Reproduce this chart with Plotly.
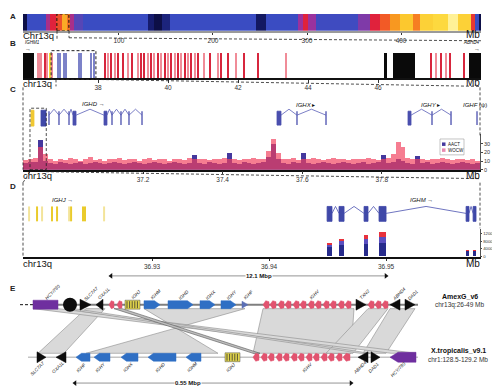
import plotly.graph_objects as go

W, H = 500, 386
def X(p): return p / W
def Y(p): return 1 - p / H

# ---------------- DATA ----------------
# A: density along chr13q (Mb bin edges + relative density)
a_edges = [-2, 2, 22, 27, 33, 39.5, 44.5, 48, 52, 62, 131, 137, 146, 154, 246, 256, 290, 296, 301, 310,
           354, 367, 378, 388, 399, 413, 420, 434, 450, 461, 474, 479, 483, 485]
a_density = [0.02, 0.2, 0.45, 0.56, 0.64, 0.8, 0.7, 0.45, 0.32, 0.2,
             0.08, 0.02, 0.1, 0.2, 0.06, 0.2, 0.42, 0.56, 0.42, 0.22,
             0.38, 0.56, 0.66, 0.76, 0.86, 0.72, 0.88, 0.9, 0.98, 0.88,
             0.6, 0.2, 0.02]
a_ticks = [100, 200, 300, 400]
a_zoom = [34, 46.8]

# B: features on chr13q 36-49 Mb
b_black_start = [35.86, 46.17, 46.43, 48.60]
b_black_end = [36.17, 46.26, 47.06, 48.94]
b_red = [36.49, 38.2, 38.371, 38.571, 38.714, 38.971, 39.229, 39.314, 39.514, 39.714, 39.914, 40.086,
         40.286, 40.486, 40.657, 40.857, 41.2, 41.514, 41.714, 42.171, 42.571, 47.51, 47.8, 48.06, 48.46]
b_pink = [36.31, 36.37, 36.54, 36.69, 38.286, 38.486, 38.857, 39.143, 39.429, 39.6, 39.8, 40.0, 40.2,
          40.371, 40.571, 40.771, 41.029, 41.429, 41.943, 43.371, 47.66, 47.94]
b_yellow = [36.63]
b_blue = [36.86, 36.91, 37.03, 37.09, 37.46, 37.51, 37.80, 37.89]
b_ticks = [38, 40, 42, 44, 46]
b_zoom = [36.66, 37.94]

# C: read frequency per bin (36.90-38.05 Mb)
c_bin_start = 36.8985
c_bin_size = 0.01248
c_aact = [8, 9, 9, 34, 10, 8, 7, 9, 8, 7,
          8, 9, 7, 8, 9, 8, 7, 8, 9, 8,
          7, 8, 9, 8, 7, 8, 9, 8, 7, 8,
          9, 8, 7, 8, 17, 8, 7, 9, 8, 7,
          8, 20, 8, 7, 9, 8, 7, 8, 9, 15,
          30, 12, 8, 7, 9, 8, 19, 8, 7, 8,
          9, 8, 7, 8, 9, 8, 7, 8, 9, 7,
          8, 9, 17, 8, 9, 12, 10, 8, 7, 16,
          8, 9, 7, 8, 9, 8, 7, 8, 9, 8,
          7, 8]
c_wocw = [11, 13, 14, 26, 18, 12, 10, 13, 11, 14,
          12, 10, 13, 15, 11, 12, 10, 13, 12, 14,
          11, 12, 13, 10, 12, 14, 11, 13, 12, 10,
          12, 13, 11, 14, 12, 13, 12, 11, 13, 12,
          14, 13, 12, 11, 13, 12, 14, 12, 13, 22,
          36, 20, 13, 12, 14, 11, 13, 12, 14, 13,
          11, 12, 14, 12, 13, 11, 12, 13, 12, 14,
          13, 11, 12, 14, 18, 32, 26, 14, 12, 13,
          12, 11, 13, 12, 14, 12, 11, 13, 12, 11,
          12, 10]
c_ticks = [37.2, 37.4, 37.6, 37.8]
c_ighj = [36.9186, 36.9261]
c_ighm = [36.9437, 36.9563]
c_ighd_start = [36.9638, 36.9889, 37.0141, 37.0241, 37.1020, 37.1221, 37.1447, 37.1648, 37.1975]
c_ighd_end = [36.9638, 36.9889, 37.0141, 37.0317, 37.1095, 37.1221, 37.1447, 37.1648, 37.1975]
c_ighx_start = [37.5367, 37.5869, 37.6598]
c_ighx_end = [37.5467, 37.5869, 37.6598]
c_ighy_start = [37.8658, 37.9261, 37.9739]
c_ighy_end = [37.8734, 37.9261, 37.9739]
c_ighf = [38.0392]
c_zoom = [36.916, 36.957]

# D: IGHJ segments, IGHM exons and read depth
d_ighj = [36.91949, 36.92017, 36.9206, 36.92145, 36.92188, 36.92291, 36.92308, 36.9241, 36.92427, 36.9259]
d_ighj_tone = ['l', 'd', 'l', 'd', 'd', 'l', 'd', 'd', 'd', 'l']
d_ighm_start = [36.94496, 36.94598, 36.94812, 36.9494, 36.95684, 36.95744]
d_ighm_end = [36.94538, 36.94641, 36.94846, 36.95, 36.95709, 36.95769]
d_depth_low = [4800, 6000, 6500, 7000, 2800, 2800]
d_depth_mid = [1300, 2000, 2500, 3000, 300, 300]
d_depth_high = [300, 1000, 2000, 2700, 100, 100]
d_ticks = [36.93, 36.94, 36.95]
d_depth_ticks = [0, 4000, 8000, 12000]

# E: synteny schematic (track positions)
top_start = [25, 55, 72, 88, 101, 109, 117, 136, 160, 192, 213, 234,
             255, 262, 270, 277, 285, 292, 300, 307, 315, 322, 330, 337, 348, 360, 367, 374, 382, 397]
top_end = [50, 69, 83, 95, 106, 114, 132, 152, 185, 207, 228, 240,
           261, 268, 276, 283, 291, 298, 306, 313, 321, 328, 336, 343, 358, 366, 373, 380, 392, 407]
top_kind = ['P', 'O', 'K>', 'K<', 'V<', 'V<', 'J', 'C>', 'C>', 'C>', 'C>', 'c>'] + ['V<'] * 12 + \
           ['K>', 'V<', 'V<', 'V<', 'K<', 'K>']
top_label = ['HCY/780', '', 'SLC7A7', 'OXA1L', '', '', 'IGHJ', 'IGHM', 'IGHD', 'IGHX', 'IGHY', 'IGHF',
             '', '', '', '', '', '', 'IGHV', '', '', '', '', '', 'TXN2', '', '', '', 'ABHD4', 'DAD1']
bot_start = [29, 48, 68, 86, 113, 140, 178, 217,
             245, 253, 260, 268, 275, 283, 290, 298, 305, 313, 320, 328, 335, 350, 363, 382]
bot_end = [38, 58, 82, 102, 130, 168, 193, 232,
           251, 259, 266, 274, 281, 289, 296, 304, 311, 319, 326, 334, 342, 360, 372, 408]
bot_kind = ['K>', 'K<', 'C<', 'C<', 'C<', 'C<', 'C<', 'J'] + ['V<'] * 13 + ['K<', 'K>', 'P<']
bot_label = ['SLC7A7', 'OXA1L', 'IGHF', 'IGHY', 'IGHX', 'IGHD', 'IGHM', 'IGHJ',
             '', '', '', '', '', '', '', 'IGHV', '', '', '', '', '', 'ABHD4', 'DAD1', 'HCY/780']
link_top_s = [78, 136, 255, 360, 382, 25, 56, 106]
link_top_e = [97, 237, 346, 380, 407, 50, 66, 114]
link_bot_s = [30, 210, 245, 318, 355, 383, 352, 245]
link_bot_e = [56, 78, 343, 345, 378, 408, 362, 252]
span_top = [103, 378, '12.1 Mbp']
span_bot = [67, 343, '0.55 Mbp']

# ---------------- FIGURE ----------------
fig = go.Figure()
shapes, ann = [], []
FONT = 'Liberation Sans, Arial, sans-serif'

def T(x, y, text, size=7, anchor='center', color='#111', angle=0, xref='paper', yref='paper', bg=None):
    d = dict(xref=xref, yref=yref, x=X(x) if xref == 'paper' else x, y=Y(y) if yref == 'paper' else y,
             text=text, showarrow=False, xanchor=anchor, yanchor='middle',
             font=dict(size=size, color=color, family=FONT), textangle=angle, borderpad=0)
    if bg:
        d['bgcolor'] = bg
    ann.append(d)

def DL(x0, y0, x1, y1):
    shapes.append(dict(type='line', xref='paper', yref='paper', x0=X(x0), y0=Y(y0), x1=X(x1), y1=Y(y1),
                       line=dict(color='#222', width=0.8, dash='3px,2px')))

# ---- A ----
a_scale = [[0, '#0a0a3a'], [0.08, '#161c6e'], [0.2, '#3a4cc2'], [0.32, '#5646b6'], [0.42, '#9a329e'],
           [0.56, '#e0223c'], [0.66, '#f25a26'], [0.76, '#f89820'], [0.86, '#fcc82e'], [0.92, '#fde248'],
           [1, '#fff6b0']]
fig.add_trace(go.Heatmap(x=a_edges, y=[0, 1], z=[a_density], colorscale=a_scale, zmin=0, zmax=1,
                         showscale=False, xaxis='x', yaxis='y', hoverinfo='skip'))
shapes.append(dict(type='rect', xref='x', yref='y', x0=a_zoom[0], x1=a_zoom[1], y0=0, y1=1,
                   line=dict(color='#111', width=1, dash='3px,2px')))

# ---- B ----
def vbars(xs, color, xa, ya, width, op=1):
    fig.add_trace(go.Bar(x=xs, y=[1] * len(xs), width=[width] * len(xs), base=0, opacity=op,
                         marker=dict(color=color, line=dict(width=0)), xaxis=xa, yaxis=ya,
                         showlegend=False, hoverinfo='skip'))

vbars(b_pink, '#f08c98', 'x2', 'y2', 0.05)
vbars(b_red, '#d7263d', 'x2', 'y2', 0.05)
vbars(b_yellow, '#f4d43a', 'x2', 'y2', 0.06)
vbars(b_blue, '#7c82c8', 'x2', 'y2', 0.05)
fig.add_trace(go.Bar(x=[(s + e) / 2 for s, e in zip(b_black_start, b_black_end)], y=[1] * len(b_black_start),
                     width=[e - s for s, e in zip(b_black_start, b_black_end)], base=0,
                     marker=dict(color='#0a0a0a', line=dict(width=0)), xaxis='x2', yaxis='y2',
                     showlegend=False, hoverinfo='skip'))
shapes.append(dict(type='rect', xref='x2', yref='paper', x0=b_zoom[0], x1=b_zoom[1], y0=Y(72), y1=Y(43),
                   line=dict(color='#222', width=1, dash='3px,2px')))

# ---- C ----
xs_bins_a = [c_bin_start + (i + 0.5) * c_bin_size for i in range(len(c_aact))]
xs_bins_w = [c_bin_start + (i + 0.5) * c_bin_size for i in range(len(c_wocw))]
fig.add_trace(go.Bar(x=xs_bins_a, y=c_aact, width=c_bin_size, marker=dict(color='#45399e', line=dict(width=0)),
                     xaxis='x3', yaxis='y3', showlegend=False, hoverinfo='skip'))
fig.add_trace(go.Bar(x=xs_bins_w, y=c_wocw, width=c_bin_size, opacity=0.68,
                     marker=dict(color='#f2405e', line=dict(width=0)),
                     xaxis='x3', yaxis='y3', showlegend=False, hoverinfo='skip'))

EXC = '#4a4fae'
def exons(xref, starts, ends, y0, y1, color):
    for s, e in zip(starts, ends):
        if e - s > 0:
            shapes.append(dict(type='rect', xref=xref, yref='paper', x0=s, x1=e, y0=Y(y1), y1=Y(y0),
                               fillcolor=color, line=dict(color=color, width=0.8)))
        else:
            shapes.append(dict(type='line', xref=xref, yref='paper', x0=s, x1=s, y0=Y(y1), y1=Y(y0),
                               line=dict(color=color, width=1.3)))

def introns(xref, starts, ends, ymid, ytop, color):
    for i in range(len(starts) - 1):
        xa, xb = ends[i], starts[i + 1]
        shapes.append(dict(type='path', xref=xref, yref='paper',
                           path=f'M{xa},{Y(ymid)} L{(xa + xb) / 2},{Y(ytop)} L{xb},{Y(ymid)}',
                           line=dict(color=color, width=0.8)))

exons('x3', [c_ighj[0]], [c_ighj[1]], 103, 119, '#f0c832')
exons('x3', [c_ighm[0]], [c_ighm[1]], 103, 119, '#3f48a8')
for st, en in [(c_ighd_start, c_ighd_end), (c_ighx_start, c_ighx_end), (c_ighy_start, c_ighy_end)]:
    exons('x3', st, en, 104, 118, EXC)
    introns('x3', st, en, 108, 102, '#5a60b8')
exons('x3', c_ighf, c_ighf, 104, 118, EXC)
shapes.append(dict(type='rect', xref='x3', yref='paper', x0=c_zoom[0], x1=c_zoom[1], y0=Y(163), y1=Y(101),
                   line=dict(color='#222', width=0.8, dash='3px,2px')))
T(85, 97, '<i>IGHD</i> →', 6)
T(297, 98, '<i>IGHX</i> ▸', 6)
T(422, 98, '<i>IGHY</i> ▸', 6)
T(467, 98, '<i>IGHF</i> (ψ)', 6)
# legend
shapes.append(dict(type='rect', xref='paper', yref='paper', x0=X(432), x1=X(456), y0=Y(148), y1=Y(132),
                   fillcolor='white', line=dict(color='#888', width=0.5)))
shapes.append(dict(type='rect', xref='paper', yref='paper', x0=X(434), x1=X(437.5), y0=Y(139), y1=Y(135.5),
                   fillcolor='#45399e', line=dict(width=0)))
shapes.append(dict(type='rect', xref='paper', yref='paper', x0=X(434), x1=X(437.5), y0=Y(145), y1=Y(141.5),
                   fillcolor='#e889b0', line=dict(width=0)))
T(439, 137.3, 'AACT', 4.5, anchor='left')
T(439, 143.3, 'WOCW', 4.5, anchor='left')
T(489, 148, 'Freq/2.6 Kb', 5.5, angle=-90)

# ---- D ----
for x, tone in zip(d_ighj, d_ighj_tone):
    shapes.append(dict(type='line', xref='x4', yref='paper', x0=x, x1=x, y0=Y(215), y1=Y(200),
                       line=dict(color='#eacb2c' if tone == 'd' else '#f3e49a', width=2)))
exons('x4', d_ighm_start, d_ighm_end, 200, 215, '#3f48a8')
introns('x4', d_ighm_start, d_ighm_end, 207, 200, '#4a52b0')
cent = [(s + e) / 2 for s, e in zip(d_ighm_start, d_ighm_end)]
wid = [e - s for s, e in zip(d_ighm_start, d_ighm_end)]
base = [0] * len(cent)
for vals, col in [(d_depth_low, '#272b8c'), (d_depth_mid, '#5a4fc0'), (d_depth_high, '#e8323c')]:
    fig.add_trace(go.Bar(x=cent, y=vals, base=base, width=wid, marker=dict(color=col, line=dict(width=0)),
                         xaxis='x4', yaxis='y4', showlegend=False, hoverinfo='skip'))
    base = [b + v for b, v in zip(base, vals)]
T(54, 194, '<i>IGHJ</i> →', 6)
T(413, 194, '<i>IGHM</i> →', 6)
T(490, 236, 'Read Depth', 5, angle=-90)

# ---- E ----
YT, YB = 299, 352
COL = {'P': '#6f2f9f', 'P<': '#6f2f9f', 'K>': '#0d0d0d', 'K<': '#0d0d0d', 'V<': '#e2536f',
       'C>': '#2f6fc4', 'C<': '#2f6fc4', 'c>': '#5b6fb5', 'J': '#e2d54a'}

def poly(s, e, y, k):
    w = e - s
    if k == 'P':
        return [(s, y - 4.5), (e, y - 4.5), (e, y + 4.5), (s, y + 4.5)]
    if k == 'P<':
        return [(s, y), (s + 8, y - 5), (e, y - 5), (e, y + 5), (s + 8, y + 5)]
    if k == 'K>':
        return [(s, y - 5.5), (e, y), (s, y + 5.5)]
    if k == 'K<':
        return [(e, y - 5.5), (s, y), (e, y + 5.5)]
    if k == 'V<':
        return [(s, y), (s + 0.45 * w, y - 4), (e, y - 3), (e, y + 3), (s + 0.45 * w, y + 4)]
    if k == 'C>':
        hl = min(5.5, 0.4 * w)
        return [(s, y - 4), (e - hl, y - 4), (e, y), (e - hl, y + 4), (s, y + 4)]
    if k == 'C<':
        hl = min(5.5, 0.4 * w)
        return [(e, y - 4), (s + hl, y - 4), (s, y), (s + hl, y + 4), (e, y + 4)]
    if k == 'c>':
        return [(s, y - 3.5), (e, y), (s, y + 3.5)]
    if k == 'J':
        return [(s, y - 4.5), (e, y - 4.5), (e, y + 4.5), (s, y + 4.5)]
    return None

# links
for i, (ts, te, bs, be) in enumerate(zip(link_top_s, link_top_e, link_bot_s, link_bot_e)):
    thin = i == len(link_top_s) - 1
    fig.add_trace(go.Scatter(x=[ts, te, be, bs, ts], y=[YT + 4, YT + 4, YB - 4, YB - 4, YT + 4],
                             mode='lines', fill='toself', fillcolor='#bdbdbd' if thin else '#d9d9d9',
                             line=dict(color='#555' if thin else '#8c8c8c', width=0.6),
                             xaxis='x5', yaxis='y5', showlegend=False, hoverinfo='skip'))
# track lines
fig.add_trace(go.Scatter(x=[12, 25], y=[YT, YT], mode='lines', line=dict(color='#111', width=1, dash='3px,2px'),
                         xaxis='x5', yaxis='y5', showlegend=False, hoverinfo='skip'))
fig.add_trace(go.Scatter(x=[25, 410], y=[YT, YT], mode='lines', line=dict(color='#7f7f7f', width=2),
                         xaxis='x5', yaxis='y5', showlegend=False, hoverinfo='skip'))
fig.add_trace(go.Scatter(x=[20, 410], y=[YB, YB], mode='lines', line=dict(color='#c4c4c4', width=1.5),
                         xaxis='x5', yaxis='y5', showlegend=False, hoverinfo='skip'))

groups = {}
circles = []
stripes_x, stripes_y = [], []
for starts, ends, kinds, y in [(top_start, top_end, top_kind, YT), (bot_start, bot_end, bot_kind, YB)]:
    for s, e, k in zip(starts, ends, kinds):
        if k == 'O':
            circles.append(((s + e) / 2, y))
            continue
        p = poly(s, e, y, k)
        gx, gy = groups.setdefault(COL[k], ([], []))
        gx.extend([q[0] for q in p] + [p[0][0], None])
        gy.extend([q[1] for q in p] + [p[0][1], None])
        if k == 'J':
            xx = s + 2
            while xx < e - 1:
                stripes_x.extend([xx, xx, None])
                stripes_y.extend([y - 3.5, y + 3.5, None])
                xx += 2.6
for col, (gx, gy) in groups.items():
    edge = '#555' if col == '#e2d54a' else col
    fig.add_trace(go.Scatter(x=gx, y=gy, mode='lines', fill='toself', fillcolor=col,
                             line=dict(color=edge, width=0.5), xaxis='x5', yaxis='y5',
                             showlegend=False, hoverinfo='skip'))
fig.add_trace(go.Scatter(x=stripes_x, y=stripes_y, mode='lines', line=dict(color='#333', width=0.8),
                         xaxis='x5', yaxis='y5', showlegend=False, hoverinfo='skip'))
fig.add_trace(go.Scatter(x=[c[0] for c in circles], y=[c[1] for c in circles], mode='markers',
                         marker=dict(color='#0d0d0d', size=14, line=dict(width=0)), xaxis='x5', yaxis='y5',
                         showlegend=False, hoverinfo='skip'))

# gene labels (rotated)
CW = 2.7
for starts, ends, labels, top in [(top_start, top_end, top_label, True), (bot_start, bot_end, bot_label, False)]:
    for s, e, lab in zip(starts, ends, labels):
        if not lab:
            continue
        gc = (s + e) / 2
        d = len(lab) * CW / 2 * 0.707
        if top:
            cx, cy = gc + d, YT - 6 - d
        else:
            cx, cy = gc + 2 - d, YB + 6 + d
        T(cx, cy, '<i>' + lab + '</i>', 4.6, angle=-45, xref='x5', yref='y5', color='#222')

# span arrows
for (x0, x1, lab), y in [(span_top, 270), (span_bot, 378)]:
    fig.add_trace(go.Scatter(x=[x0, x1], y=[y, y], mode='lines', line=dict(color='#666', width=0.7),
                             xaxis='x5', yaxis='y5', showlegend=False, hoverinfo='skip'))
    fig.add_trace(go.Scatter(x=[x0, x1], y=[y, y], mode='markers',
                             marker=dict(symbol=['triangle-left', 'triangle-right'], size=5, color='#111'),
                             xaxis='x5', yaxis='y5', showlegend=False, hoverinfo='skip'))
    T((x0 + x1) / 2 - 25 if y > 300 else (x0 + x1) / 2 + 10, y, '<b>' + lab + '</b>', 6, xref='x5', yref='y5', bg='white')

T(452, 291, '<b>AmexG_v6</b>', 7)
T(452, 299.5, 'chr13q:26-49 Mb', 6.5, color='#333')
T(450, 346, '<b>X.tropicalis_v9.1</b>', 7)
T(450, 354.5, 'chr1:128.5-129.2 Mb', 6.5, color='#333')

# ---- panel text ----
for lab, y in [('A', 9), ('B', 36), ('C', 82), ('D', 180), ('E', 283)]:
    T(5, y, '<b>' + lab + '</b>', 8, color='#222')
for txt, y in [('Chr13q', 27.5), ('chr13q', 76), ('chr13q', 169), ('chr13q', 258)]:
    T(14, y, txt, 9.5, anchor='left')
for y in [27, 75, 169, 258]:
    T(473, y, 'Mb', 10, anchor='right')
T(16, 35, '<i>IGHM1</i>', 4.5, anchor='left')
T(16, 41.5, '→', 6, anchor='left')
T(473, 35, '<i>ABHD4</i>', 4.5, anchor='right')
T(473, 41.5, '→', 6, anchor='right')

# connectors
DL(49, 23, 49, 31)
DL(61, 23, 61, 30)
DL(61, 30, 473, 33)
DL(48, 72, 48, 79)
DL(88, 72, 472, 79)
DL(15, 80, 15, 163)
DL(472, 80, 472, 130)
DL(38, 165, 472, 172)
DL(22, 165, 15, 176)
DL(15, 176, 15, 250)
DL(472, 176, 472, 222)

axx = dict(showgrid=False, zeroline=False, ticks='outside', ticklen=2.5, tickwidth=0.8, tickcolor='#333',
           tickfont=dict(size=6.5, color='#333', family=FONT), showline=True, linecolor='#111',
           linewidth=1.5, fixedrange=True)
hid = dict(visible=False, fixedrange=True)
fig.update_layout(
    width=W, height=H, margin=dict(l=0, r=0, t=0, b=0), paper_bgcolor='white', plot_bgcolor='rgba(0,0,0,0)',
    barmode='overlay', bargap=0, showlegend=False, font=dict(family=FONT),
    xaxis=dict(domain=[X(15), X(473)], range=[-2, 485], anchor='y', tickvals=a_ticks,
               **{**axx, 'linecolor': '#9a9a9a', 'linewidth': 2}),
    yaxis=dict(domain=[Y(23), Y(6)], range=[0, 1], anchor='x', **hid),
    xaxis2=dict(domain=[X(15), X(473)], range=[35.857, 48.94], anchor='y2', tickvals=b_ticks, **axx),
    yaxis2=dict(domain=[Y(71), Y(45)], range=[0, 1], anchor='x2', **hid),
    xaxis3=dict(domain=[X(15), X(472)], range=[36.8985, 38.0467], anchor='y3', tickvals=c_ticks,
                ticktext=[f'{t:.1f}' for t in c_ticks], **axx),
    yaxis3=dict(domain=[Y(163), Y(127)], range=[0, 41.5], anchor='x3', side='right', tickvals=[0, 10, 20, 30],
                ticks='outside', ticklen=2, tickfont=dict(size=5.5, color='#333'), showline=True,
                linecolor='#555', linewidth=0.7, showgrid=False, zeroline=False, fixedrange=True),
    xaxis4=dict(domain=[X(15), X(472)], range=[36.91897, 36.95803], anchor='y4', tickvals=d_ticks,
                ticktext=[f'{t:.2f}' for t in d_ticks], **{**axx, 'linewidth': 2}),
    yaxis4=dict(domain=[Y(250.5), Y(223)], range=[0, 14100], anchor='x4', side='right',
                tickvals=d_depth_ticks, ticktext=[str(t) for t in d_depth_ticks], ticks='outside', ticklen=1.5,
                tickfont=dict(size=4.3, color='#333'), showline=True, linecolor='#555', linewidth=0.7,
                showgrid=False, zeroline=False, fixedrange=True),
    xaxis5=dict(domain=[0, 1], range=[0, 500], anchor='y5', **hid),
    yaxis5=dict(domain=[0, Y(265)], range=[386, 265], anchor='x5', **hid),
    shapes=shapes, annotations=ann,
)
fig.write_html('out.html')
